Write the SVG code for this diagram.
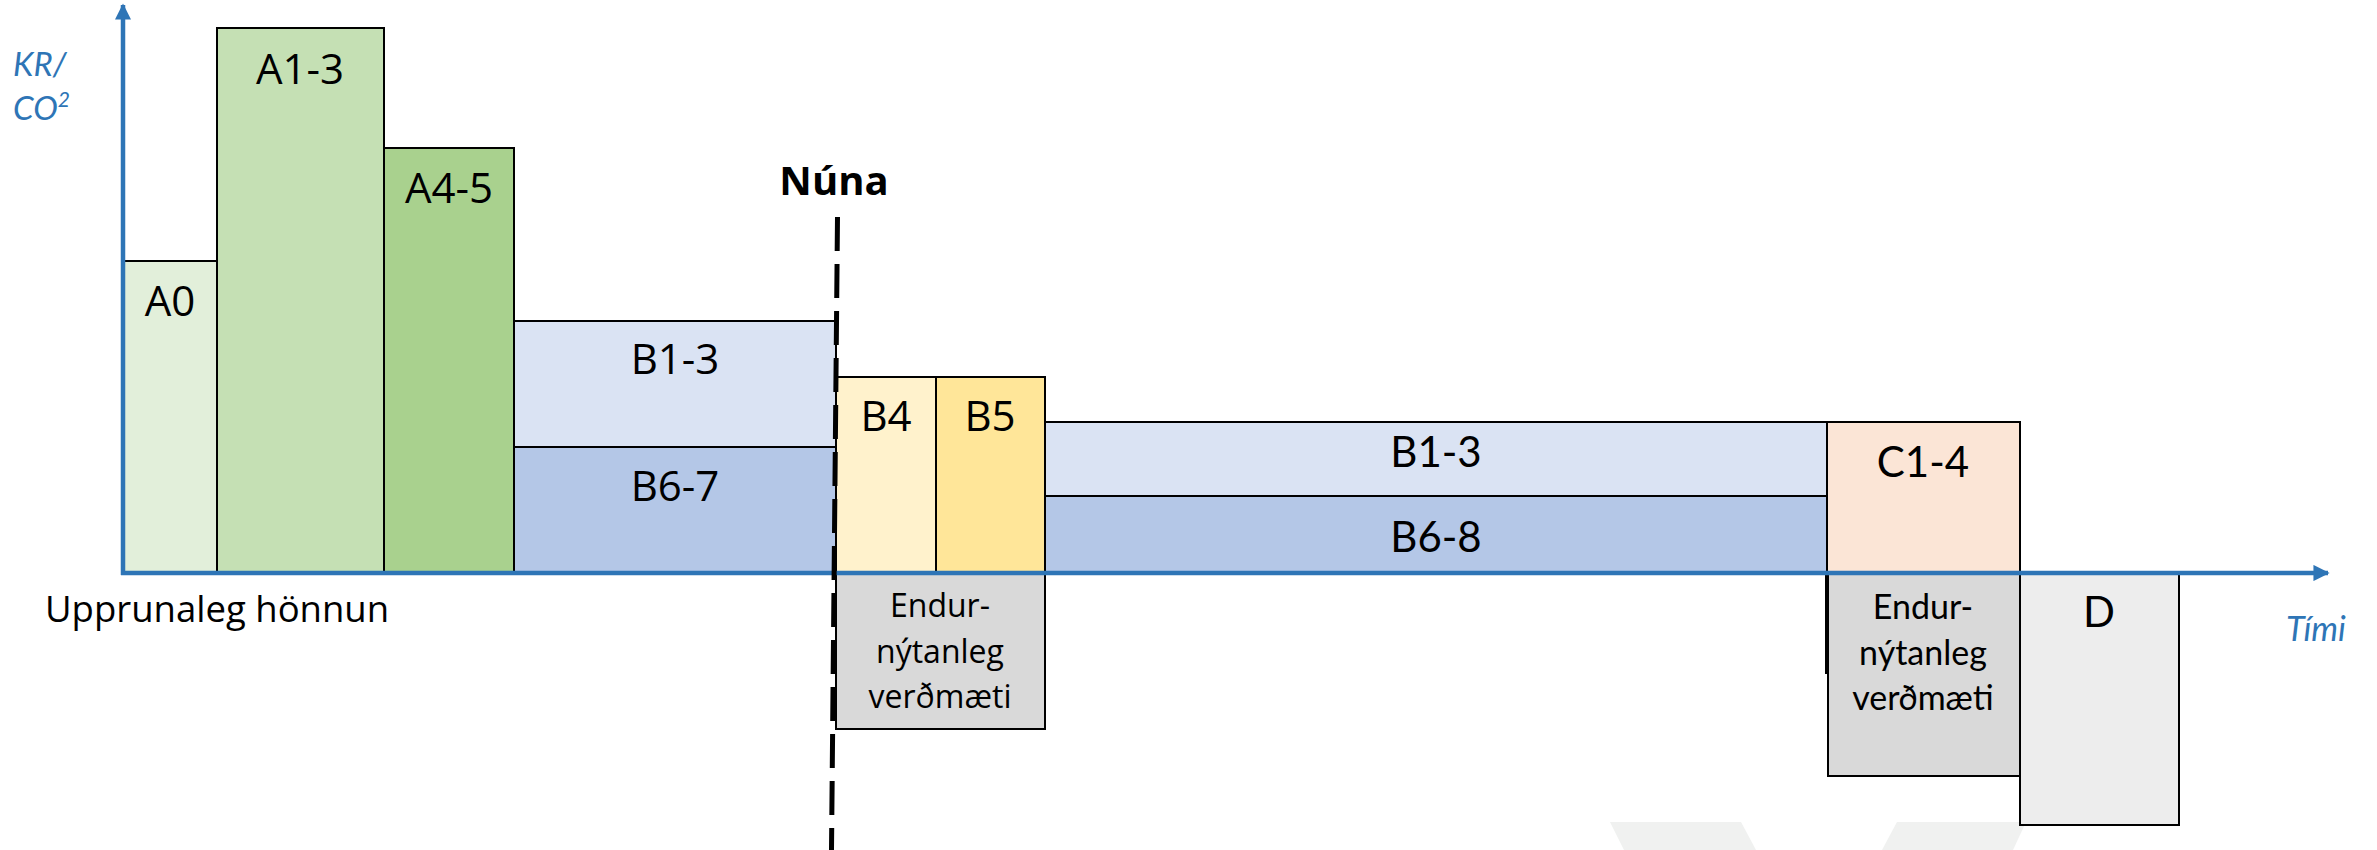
<svg xmlns="http://www.w3.org/2000/svg" width="2377" height="850" viewBox="0 0 2377 850">
<style>
.box{stroke:#000;stroke-width:2}
.lbl{font-family:"Open Sans","Liberation Sans",sans-serif;font-size:42px;fill:#000;text-anchor:middle}
.lblr{font-family:Lato,"Liberation Sans",sans-serif;font-size:42px;fill:#000;text-anchor:middle}
.sm{font-family:"Open Sans","Liberation Sans",sans-serif;font-size:32px;fill:#000;text-anchor:middle}
.smr{font-family:Lato,"Liberation Sans",sans-serif;font-size:34px;fill:#000;text-anchor:middle}
.ax{font-family:Lato,"Liberation Sans",sans-serif;font-style:italic;fill:#2E75B6}
.axis{stroke:#2E75B6;stroke-width:4.5;fill:none}
</style>
<defs>
<marker id="arr" viewBox="0 0 10 10" refX="9" refY="5" markerWidth="3.6" markerHeight="3.6" markerUnits="strokeWidth" orient="auto">
<path d="M0,0 L10,5 L0,10 Z" fill="#2E75B6"/>
</marker>
</defs>
<rect width="2377" height="850" fill="#fff"/>
<polygon points="1610,822 1741,822 1756,850 1624,850" fill="#F0F1F0"/>
<polygon points="1897,822 2026,822 2013,850 1882,850" fill="#F0F1F0"/>

<g id="A0"><rect class="box" x="124" y="261" width="93" height="312" fill="#E2EFDA"/><text class="lbl" x="170" y="316">A0</text></g>
<g id="A1-3"><rect class="box" x="217" y="28" width="167" height="545" fill="#C5E0B4"/><text class="lbl" x="300" y="84">A1-3</text></g>
<g id="A4-5"><rect class="box" x="384" y="148" width="130" height="425" fill="#A9D18E"/><text class="lbl" x="449" y="203">A4-5</text></g>
<g id="B1-3a"><rect class="box" x="514" y="321" width="322" height="126" fill="#DAE3F3"/><text class="lbl" x="675" y="374">B1-3</text></g>
<g id="B6-7"><rect class="box" x="514" y="447" width="322" height="126" fill="#B4C7E7"/><text class="lbl" x="675" y="501">B6-7</text></g>
<g id="B4"><rect class="box" x="836" y="377" width="100" height="196" fill="#FFF2CC"/><text class="lbl" x="886" y="431">B4</text></g>
<g id="B5"><rect class="box" x="936" y="377" width="109" height="196" fill="#FFE699"/><text class="lbl" x="990" y="431">B5</text></g>
<g id="E1"><rect class="box" x="836" y="573" width="209" height="156" fill="#D9D9D9"/>
<text class="sm" x="940" y="617">Endur-</text><text class="sm" x="940" y="663">nýtanleg</text><text class="sm" x="940" y="708">verðmæti</text></g>
<g id="B1-3b"><rect class="box" x="1045" y="422" width="782" height="74" fill="#DAE3F3"/><text class="lblr" x="1436" y="467">B1-3</text></g>
<g id="B6-8"><rect class="box" x="1045" y="496" width="782" height="77" fill="#B4C7E7"/><text class="lblr" x="1436" y="552">B6-8</text></g>
<g id="C1-4"><rect class="box" x="1827" y="422" width="193" height="151" fill="#FBE5D6"/><text class="lblr" x="1923" y="477">C1-4</text></g>
<g id="E2"><rect class="box" x="1828" y="573" width="192" height="203" fill="#D9D9D9"/>
<line x1="1826" y1="573" x2="1826" y2="674" stroke="#000" stroke-width="2"/>
<text class="smr" x="1923" y="619">Endur-</text><text class="smr" x="1923" y="665">nýtanleg</text><text class="smr" x="1923" y="710">verðmæti</text></g>
<g id="D"><rect class="box" x="2020" y="573" width="159" height="252" fill="#EDEDED"/><text class="lblr" x="2099" y="627">D</text></g>

<g id="connectors">
<line class="axis" x1="123" y1="575" x2="123" y2="5" marker-end="url(#arr)"/>
<line class="axis" x1="121" y1="573" x2="2328" y2="573" marker-end="url(#arr)"/>
<line x1="837.5" y1="217" x2="831.5" y2="850" stroke="#000" stroke-width="5" stroke-dasharray="34 13"/>
</g>

<g id="labels">
<text x="834" y="195" font-family="'Open Sans','Liberation Sans',sans-serif" font-weight="bold" font-size="40" text-anchor="middle" fill="#000">Núna</text>
<text x="45" y="622" font-family="'Open Sans','Liberation Sans',sans-serif" font-size="36.5" fill="#000">Upprunaleg hönnun</text>
<text class="ax" x="13" y="76" font-size="33">KR/</text>
<text class="ax" x="13" y="120" font-size="33">CO<tspan font-size="21" dy="-13">2</tspan></text>
<text class="ax" x="2286" y="641" font-size="34">Tími</text>
</g>
</svg>
